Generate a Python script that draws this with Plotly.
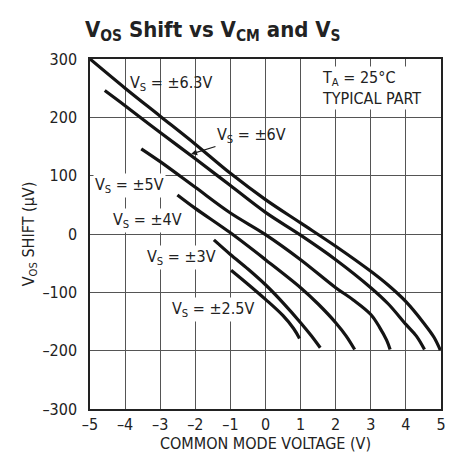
import plotly.graph_objects as go

# Data
vs_labels = ["±6.3V", "±6V", "±5V", "±4V", "±3V", "±2.5V"]
x_63 = [-5, -4, -3, -2, -1, 0, 1, 2, 3, 3.5, 4, 4.5, 4.8, 4.98]
y_63 = [300, 250, 202, 154, 104, 59, 19, -21, -64, -88, -116, -152, -177, -199]
x_6 = [-4.58, -4, -3, -2, -1, 0, 1, 2, 3, 3.5, 4, 4.3, 4.53]
y_6 = [246, 220, 174, 129, 83, 37, -2, -44, -92, -120, -155, -175, -198]
x_5 = [-3.54, -3, -2, -1, 0, 1, 2, 2.5, 3, 3.25, 3.45, 3.55]
y_5 = [146, 124, 80, 36, -1, -44, -92, -113, -138, -160, -182, -198]
x_4 = [-2.51, -2, -1, 0, 1, 1.5, 2, 2.3, 2.54]
y_4 = [67, 44, 2, -44, -92, -120, -152, -175, -198]
x_3 = [-1.47, -1, -0.5, 0, 0.5, 1, 1.3, 1.56]
y_3 = [-10, -35, -60, -87, -118, -152, -174, -195]
x_25 = [-0.98, -0.5, 0, 0.5, 0.8, 0.97]
y_25 = [-62, -86, -112, -140, -162, -179]

x_ticks = [-5, -4, -3, -2, -1, 0, 1, 2, 3, 4, 5]
x_tick_text = ["–5", "–4", "–3", "–2", "–1", "0", "1", "2", "3", "4", "5"]
y_ticks = [-300, -200, -100, 0, 100, 200, 300]
y_tick_text = ["–300", "–200", "–100", "0", "100", "200", "300"]

FONT = "DejaVu Sans Condensed, Liberation Sans Narrow, Roboto, sans-serif"

fig = go.Figure()
for xs, ys in [(x_63, y_63), (x_6, y_6), (x_5, y_5), (x_4, y_4), (x_3, y_3), (x_25, y_25)]:
    fig.add_trace(go.Scatter(x=xs, y=ys, mode="lines",
                             line=dict(color="#141414", width=3.2, shape="spline", smoothing=1.0),
                             showlegend=False, hoverinfo="skip"))

def lab(s):
    return "V<sub>S</sub> = " + s

annotations = [
    dict(x=-2.7, y=258, text=lab(vs_labels[0]), showarrow=False),
    dict(x=-2.12, y=137, ax=-0.4, ay=169, axref="x", ayref="y", text=lab(vs_labels[1]),
         showarrow=True, arrowhead=2, arrowsize=1, arrowwidth=1.2, arrowcolor="#1a1a1a"),
    dict(x=-3.87, y=84, text=lab(vs_labels[2]), showarrow=False, bgcolor="white"),
    dict(x=-3.35, y=24, text=lab(vs_labels[3]), showarrow=False, bgcolor="white"),
    dict(x=-2.39, y=-41, text=lab(vs_labels[4]), showarrow=False, bgcolor="white"),
    dict(x=-1.51, y=-130, text=lab(vs_labels[5]), showarrow=False, bgcolor="white"),
    dict(x=1.55, y=250, text="T<sub>A</sub> = 25°C<br>TYPICAL PART", showarrow=False,
         xanchor="left", align="left", bgcolor="white"),
]
for a in annotations:
    a["xref"] = "x"
    a["yref"] = "y"
    a["font"] = dict(family=FONT, size=16, color="#222")

axis_common = dict(showgrid=True, gridcolor="rgb(85,85,85)", gridwidth=1, griddash="solid",
                   zeroline=False, showline=True, linecolor="#222", linewidth=1.5,
                   mirror=True, ticks="", tickfont=dict(family=FONT, size=16, color="#222"))

fig.update_layout(
    width=453, height=458,
    margin=dict(l=82, r=20, t=51, b=57),
    paper_bgcolor="white", plot_bgcolor="white",
    title=dict(text="<b>V<sub>OS</sub> Shift vs V<sub>CM</sub> and V<sub>S</sub></b>",
               x=77/453, xanchor="left", y=1 - 21/458, yanchor="middle",
               font=dict(family=FONT, size=22, color="#222")),
    font=dict(family=FONT, size=16, color="#222"),
    annotations=annotations,
    xaxis=dict(range=[-5, 5], tickvals=x_ticks, ticktext=x_tick_text,
               ticklabelstandoff=0,
               title=dict(text="COMMON MODE VOLTAGE (V)", font=dict(family=FONT, size=16), standoff=2),
               **axis_common),
    yaxis=dict(range=[-300, 300], tickvals=y_ticks, ticktext=y_tick_text,
               ticklabelstandoff=8,
               title=dict(text="V<sub>OS</sub> SHIFT (µV)", font=dict(family=FONT, size=16), standoff=4),
               **axis_common),
)

fig.write_html("out.html")
